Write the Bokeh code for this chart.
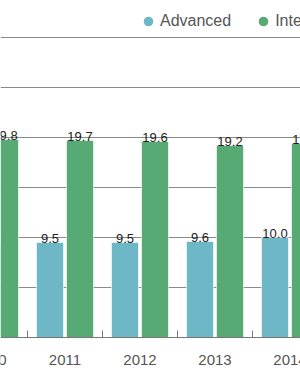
from bokeh.plotting import figure
from bokeh.models import ColumnDataSource, FixedTicker, Legend, LegendItem, LabelSet, Span
from bokeh.core.properties import value
from bokeh.transform import dodge
from bokeh.embed import file_html
from bokeh.resources import INLINE

years = [2010, 2011, 2012, 2013, 2014]
year_labels = ["2010", "2011", "2012", "2013", "2014"]
advanced = [9.4, 9.5, 9.5, 9.6, 10.0]
intermediate = [19.8, 19.7, 19.6, 19.2, 19.4]
series_names = ["Advanced", "Intermediate"]

BLUE = "#6db7c7"
GREEN = "#58aa74"
FONT = "Liberation Sans"

src = ColumnDataSource(dict(
    x=years,
    lab=year_labels,
    zero=[0] * len(years),
    adv=advanced,
    inter=intermediate,
    adv_t=["%.1f" % v for v in advanced],
    inter_t=["%.1f" % v for v in intermediate],
))
bounds = [y - 0.5 for y in years] + [years[-1] + 0.5]
tick_src = ColumnDataSource(dict(x=bounds, y0=[0] * len(bounds), y1=[0.7] * len(bounds)))

p = figure(width=300, height=383, output_backend="svg", toolbar_location=None,
           x_range=(2010.14, 2014.14), y_range=(-4.6, 33.7),
           min_border_left=0, min_border_right=0, min_border_top=0,
           min_border_bottom=0)
p.outline_line_color = None
p.axis.visible = False
p.xgrid.visible = False
p.ygrid.ticker = FixedTicker(ticks=[5, 10, 15, 20, 25, 30])
p.ygrid.grid_line_color = "#8a8a8a"
p.ygrid.grid_line_width = 1

r1 = p.vbar(x=dodge("x", -0.2, range=p.x_range), top="adv", width=0.36, source=src,
            fill_color=BLUE, line_color="white", line_alpha=0.6, line_width=1)
r2 = p.vbar(x=dodge("x", 0.2, range=p.x_range), top="inter", width=0.36, source=src,
            fill_color=GREEN, line_color="white", line_alpha=0.6, line_width=1)

# baseline and category separator ticks
p.add_layout(Span(location=0, dimension="width", line_color="#777777", line_width=1))
p.segment(x0="x", y0="y0", x1="x", y1="y1", source=tick_src,
          line_color="#777777", line_width=1)

for col, txt, off in (("adv", "adv_t", -0.2), ("inter", "inter_t", 0.2)):
    p.add_layout(LabelSet(x=dodge("x", off, range=p.x_range), y=col, text=txt, source=src,
                          text_align="center", text_baseline="bottom", y_offset=0,
                          text_font=value(FONT), text_font_size="13px", text_color="#222222"))

p.add_layout(LabelSet(x="x", y="zero", text="lab", source=src, y_offset=-22,
                      text_align="center", text_baseline="middle",
                      text_font=value(FONT), text_font_size="15px", text_color="#555555"))

d1 = p.scatter(x="x", y="adv", source=src, marker="circle", size=11,
               fill_color=BLUE, line_color=None, visible=False)
d2 = p.scatter(x="x", y="inter", source=src, marker="circle", size=11,
               fill_color=GREEN, line_color=None, visible=False)
legend = Legend(items=[LegendItem(label=series_names[0], renderers=[d1]),
                       LegendItem(label=series_names[1], renderers=[d2])],
                orientation="horizontal", location=(136, 348),
                label_text_font=FONT, label_text_font_size="16px", label_text_color="#555555",
                glyph_width=24, glyph_height=28, label_standoff=0, spacing=20,
                border_line_color=None, background_fill_alpha=0, padding=0, margin=0,
                inactive_fill_alpha=0)
p.add_layout(legend, "center")

open("out.html", "w").write(file_html(p, INLINE))
